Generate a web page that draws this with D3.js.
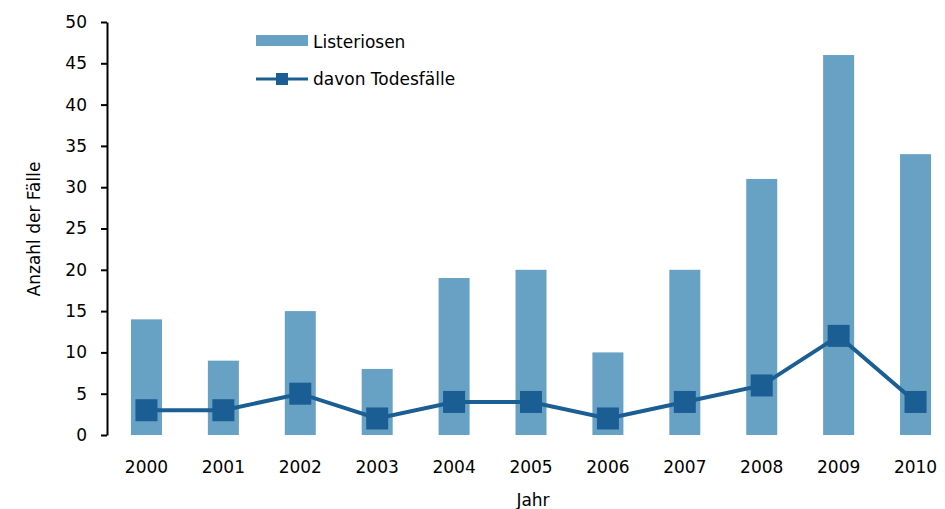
<!DOCTYPE html>
<html>
<head>
<meta charset="utf-8">
<script src="https://cdn.jsdelivr.net/npm/d3@7"></script>
<style>
  body { margin: 0; background: #fff; }
  text { font-family: "DejaVu Sans", Verdana, sans-serif; fill: #000; }
</style>
</head>
<body>
<div id="chart"></div>
<script>
var years = ['2000','2001','2002','2003','2004','2005','2006','2007','2008','2009','2010'];
var listeriosen = [14, 9, 15, 8, 19, 20, 10, 20, 31, 46, 34];
var todesfaelle = [3, 3, 5, 2, 4, 4, 2, 4, 6, 12, 4];
var yTicks = [0, 5, 10, 15, 20, 25, 30, 35, 40, 45, 50];

var width = 945, height = 509;
var barColor = '#67a1c4', lineColor = '#1b5e94';

var svg = d3.select('#chart').append('svg')
    .attr('width', width)
    .attr('height', height);

var x = d3.scaleBand().domain(years).range([108, 954]);
var y = d3.scaleLinear().domain([0, 50]).range([435, 22]);
var barW = 31;

// bars
svg.append('g').selectAll('rect')
    .data(years)
    .enter().append('rect')
    .attr('x', function(d){ return x(d) + x.bandwidth()/2 - barW/2; })
    .attr('width', barW)
    .attr('y', function(d, i){ return y(listeriosen[i]); })
    .attr('height', function(d, i){ return y(0) - y(listeriosen[i]); })
    .attr('fill', barColor);

// line
var line = d3.line()
    .x(function(d, i){ return x(years[i]) + x.bandwidth()/2; })
    .y(function(d){ return y(d); });

svg.append('path')
    .datum(todesfaelle)
    .attr('d', line)
    .attr('fill', 'none')
    .attr('stroke', lineColor)
    .attr('stroke-width', 4);

var mk = 22;
svg.append('g').selectAll('rect')
    .data(todesfaelle)
    .enter().append('rect')
    .attr('x', function(d, i){ return x(years[i]) + x.bandwidth()/2 - mk/2; })
    .attr('y', function(d){ return y(d) - mk/2; })
    .attr('width', mk)
    .attr('height', mk)
    .attr('fill', lineColor);

// y axis
var yAxis = d3.axisLeft(y).tickValues(yTicks).tickSize(6).tickPadding(14).tickSizeOuter(0);
var ya = svg.append('g').attr('transform', 'translate(107,0)').call(yAxis);
ya.select('.domain').attr('stroke', '#000').attr('stroke-width', 2);
ya.selectAll('.tick line').attr('stroke', '#000').attr('stroke-width', 2);
ya.selectAll('.tick text').style('font-size', '17px').attr('font-family', null);

// x labels
var xAxis = d3.axisBottom(x).tickSize(0).tickPadding(0);
var xa = svg.append('g').attr('transform', 'translate(0,461)').call(xAxis);
xa.select('.domain').remove();
xa.selectAll('.tick text').style('font-size', '17px').attr('font-family', null);

// axis titles
svg.append('text')
    .attr('x', 533).attr('y', 506)
    .attr('text-anchor', 'middle')
    .style('font-size', '17px')
    .text('Jahr');

svg.append('text')
    .attr('transform', 'translate(40,229) rotate(-90)')
    .attr('text-anchor', 'middle')
    .style('font-size', '17px')
    .text('Anzahl der Fälle');

// legend
var lg = svg.append('g');
lg.append('rect').attr('x', 256).attr('y', 35).attr('width', 52).attr('height', 11).attr('fill', barColor);
lg.append('text').attr('x', 313).attr('y', 48).style('font-size', '17px').text('Listeriosen');
lg.append('line').attr('x1', 256).attr('x2', 308).attr('y1', 79).attr('y2', 79)
    .attr('stroke', lineColor).attr('stroke-width', 3);
lg.append('rect').attr('x', 276).attr('y', 73).attr('width', 12).attr('height', 12).attr('fill', lineColor);
lg.append('text').attr('x', 313).attr('y', 85).style('font-size', '17px').text('davon Todesfälle');
</script>
</body>
</html>
